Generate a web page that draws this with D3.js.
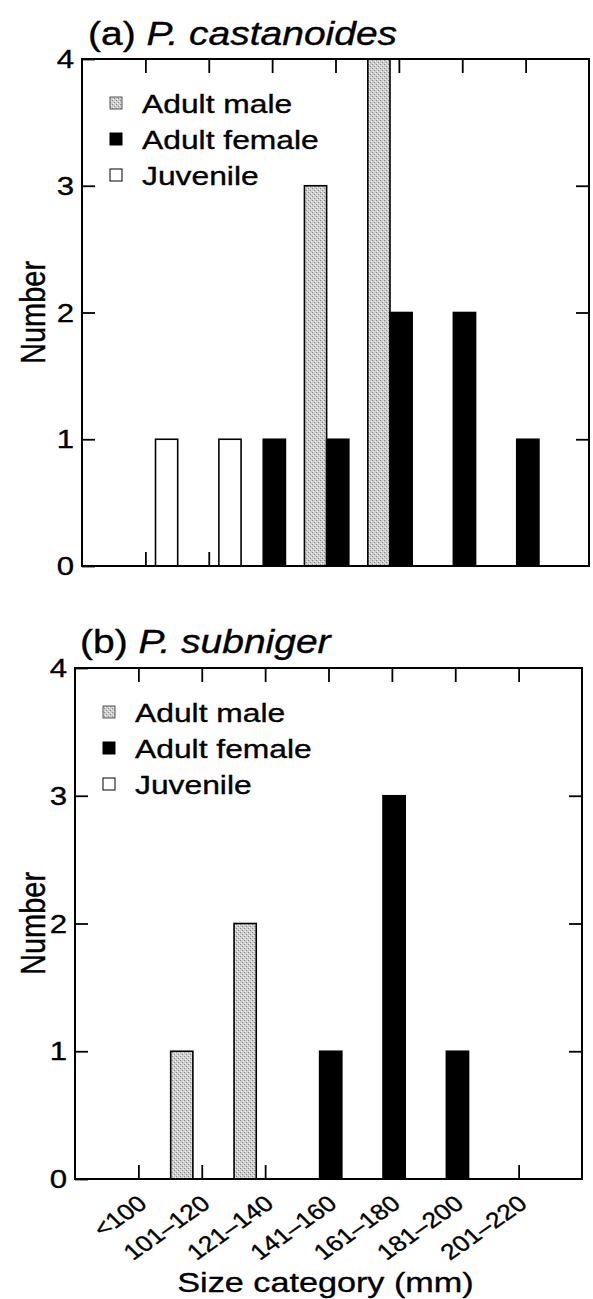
<!DOCTYPE html>
<html><head><meta charset="utf-8">
<script src="https://cdn.jsdelivr.net/npm/d3@7"></script>
<style>
body{margin:0;background:#fff}
svg{display:block}
text{font-family:"Liberation Sans",Arial,Helvetica,sans-serif;fill:#000;stroke:#000;stroke-width:0.35px}
</style>
</head><body>
<svg id="chart" width="593" height="1299"></svg>
<script>
// ---------- data ----------
const categories = ["<100","101\u2013120","121\u2013140","141\u2013160","161\u2013180","181\u2013200","201\u2013220"];
const seriesNames = ["Juvenile","Adult male","Adult female"];
const legendOrder = ["Adult male","Adult female","Juvenile"];
const yTicks = [0,1,2,3,4];

const castanoidesJuvenile = [0,1,1,0,0,0,0];
const castanoidesMale     = [0,0,0,3,4,0,0];
const castanoidesFemale   = [0,0,1,1,2,2,1];

const subnigerJuvenile = [0,0,0,0,0,0,0];
const subnigerMale     = [0,1,2,0,0,0,0];
const subnigerFemale   = [0,0,0,1,3,1,0];

const panelTags = ["(a) ","(b) "];
const panelSpecies = ["P. castanoides","P. subniger"];
const yTitle = "Number";
const xTitle = "Size category (mm)";

// ---------- layout ----------
const layout = [
  {left:82, right:589, top:59, bottom:566, titleX:88, titleY:45},
  {left:75, right:582, top:668, bottom:1179, titleX:80, titleY:653}
];
const SX = 1.2; // horizontal stretch of the scanned type

const svg = d3.select("#chart");
const defs = svg.append("defs");
const pat = defs.append("pattern").attr("id","stipple").attr("patternUnits","userSpaceOnUse")
  .attr("width",4).attr("height",4);
pat.append("rect").attr("width",4).attr("height",4).attr("fill","#cdcdcd");
pat.append("rect").attr("x",0).attr("y",0).attr("width",1).attr("height",1).attr("fill","#8a8a8a");
pat.append("rect").attr("x",2).attr("y",2).attr("width",1).attr("height",1).attr("fill","#8a8a8a");
pat.append("rect").attr("x",1).attr("y",3).attr("width",1).attr("height",1).attr("fill","#f2f2f2");
pat.append("rect").attr("x",3).attr("y",1).attr("width",1).attr("height",1).attr("fill","#f2f2f2");

const fills = {"Juvenile":"#ffffff","Adult male":"url(#stipple)","Adult female":"#000000"};

function sText(parent, x, y, size, anchor, extra){
  const g = parent.append("g").attr("transform",`translate(${x},${y}) scale(${SX},1)` + (extra||""));
  return g.append("text").attr("font-size",size).attr("text-anchor",anchor);
}

const datasets = [
  {"Juvenile":castanoidesJuvenile,"Adult male":castanoidesMale,"Adult female":castanoidesFemale},
  {"Juvenile":subnigerJuvenile,"Adult male":subnigerMale,"Adult female":subnigerFemale}
];

datasets.forEach((ds, pi) => {
  const L = layout[pi];
  const g = svg.append("g");
  const x = d3.scaleLinear().domain([0, categories.length + 1]).range([L.left, L.right]);
  const y = d3.scaleLinear().domain([0, 4]).range([L.bottom, L.top]);
  const sub = d3.scaleBand().domain(seriesNames).range([0.16, 1.21]).padding(0);

  // bars
  seriesNames.forEach(s => {
    g.selectAll(null).data(ds[s].map((v,i)=>({v,i})).filter(d=>d.v>0)).enter().append("rect")
      .attr("x", d => x(d.i + sub(s)))
      .attr("width", d => x(d.i + sub(s) + sub.bandwidth()) - x(d.i + sub(s)))
      .attr("y", d => y(d.v))
      .attr("height", d => y(0) - y(d.v))
      .attr("fill", fills[s])
      .attr("stroke", "#000").attr("stroke-width", 1.6);
  });

  // frame
  g.append("rect").attr("x",L.left).attr("y",L.top).attr("width",L.right-L.left).attr("height",L.bottom-L.top)
    .attr("fill","none").attr("stroke","#000").attr("stroke-width",2);

  const xt = d3.range(1, categories.length + 1);
  g.append("g").attr("transform",`translate(0,${L.bottom})`)
    .call(d3.axisBottom(x).tickValues(xt).tickSize(-14).tickFormat(""))
    .call(a => a.select(".domain").remove())
    .selectAll("line").attr("stroke-width",1.8);
  g.append("g").attr("transform",`translate(0,${L.top})`)
    .call(d3.axisTop(x).tickValues(xt).tickSize(-14).tickFormat(""))
    .call(a => a.select(".domain").remove())
    .selectAll("line").attr("stroke-width",1.8);
  g.append("g").attr("transform",`translate(${L.left},0)`)
    .call(d3.axisLeft(y).tickValues(yTicks).tickSize(-13).tickFormat(""))
    .call(a => a.select(".domain").remove())
    .selectAll("line").attr("stroke-width",1.8);
  g.append("g").attr("transform",`translate(${L.right},0)`)
    .call(d3.axisRight(y).tickValues(yTicks.slice(1,-1)).tickSize(-13).tickFormat(""))
    .call(a => a.select(".domain").remove())
    .selectAll("line").attr("stroke-width",1.8);

  // y tick labels
  yTicks.forEach(t => {
    sText(g, L.left - 8, y(t) + 9, 26, "end").text(t);
  });

  // y title
  sText(g, 45, (L.top + L.bottom)/2, 29, "middle", " rotate(-90)").text(yTitle);

  // panel title
  const tt = sText(g, L.titleX, L.titleY, 32.5, "start");
  tt.append("tspan").text(panelTags[pi]);
  tt.append("tspan").attr("font-style","italic").text(panelSpecies[pi]);

  // legend
  legendOrder.forEach((s, k) => {
    const by = L.top + 54 + k * 36;
    g.append("rect").attr("x", L.left + 28).attr("y", by - 16).attr("width", 12).attr("height", 12)
      .attr("fill", fills[s]).attr("stroke", s === "Adult male" ? "#555" : "#000").attr("stroke-width", 1);
    sText(g, L.left + 60, by, 26.5, "start").text(s);
  });

  // x labels only on bottom panel
  if (pi === 1) {
    categories.forEach((c, i) => {
      sText(g, x(i + 1) + 10, L.bottom + 27, 22, "end", " rotate(-40)").text(c);
    });
    sText(g, (L.left + L.right)/2 - 3, 1292, 28.5, "middle").text(xTitle);
  }
});
</script>
</body></html>
